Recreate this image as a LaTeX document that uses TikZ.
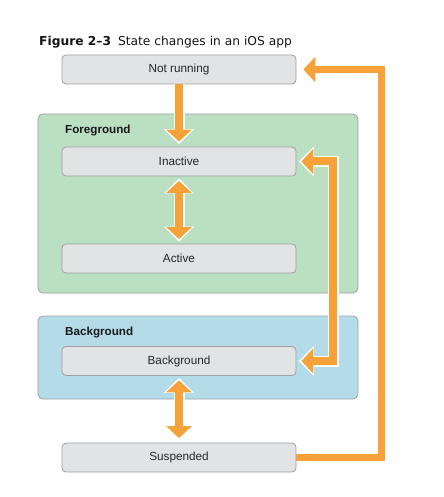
\documentclass[tikz,border=0pt]{standalone}
\usepackage{fontspec}
\setmainfont{Liberation Sans}
\newfontfamily\titlefont{DejaVu Sans}
\usetikzlibrary{arrows.meta}
\definecolor{myorange}{RGB}{247,162,57}
\definecolor{fggreen}{RGB}{186,223,194}
\definecolor{bgblue}{RGB}{179,220,232}
\definecolor{boxfill}{RGB}{226,227,229}
\definecolor{boxborder}{RGB}{160,160,162}
\definecolor{grpborder}{RGB}{160,162,162}
\definecolor{titlecol}{RGB}{20,20,20}
\begin{document}
\begin{tikzpicture}[x=1bp,y=-1bp,
  statebox/.style={draw=boxborder, fill=boxfill, rounded corners=4bp, line width=0.8bp,
    minimum width=234bp, minimum height=29bp, inner sep=0pt,
    font=\fontsize{11.8}{13}\selectfont, text=black!85},
  group/.style={draw=grpborder, line width=0.8bp, rounded corners=5bp,
    minimum width=320bp, inner sep=0pt},
  grplabel/.style={anchor=base west, inner sep=0pt,
    font=\bfseries\fontsize{11.7}{13}\selectfont, text=black!90},
  wline/.style={draw=white, line width=11bp, line join=miter},
  oline/.style={draw=myorange, line width=8bp, line join=miter},
  wtip/.tip={Triangle[width=29bp,length=15bp]},
  otip/.tip={Triangle[width=25bp,length=12bp]}
]
\useasboundingbox (0,0) rectangle (444,497);

% title
\node[anchor=base west, inner sep=0pt, font=\titlefont\fontsize{12.3}{14}\selectfont, text=titlecol]
  (title) at (39,45.5) {\textbf{Figure 2–3}\hspace{7bp}State changes in an iOS app};

% groups
\node[group, fill=fggreen, minimum height=179bp] (fg) at (198,203.5) {};
\node[group, fill=bgblue, minimum height=83bp] (bg) at (198,357.5) {};
\node[grplabel] (fglabel) at (65,134) {Foreground};
\node[grplabel] (bglabel) at (65,335.5) {Background};

% states
\node[statebox] (notrun) at (179,69.5) {Not running};
\node[statebox] (inactive) at (179,161.5) {Inactive};
\node[statebox] (active) at (179,258.5) {Active};
\node[statebox] (bgstate) at (179,361) {Background};
\node[statebox] (susp) at (179,457.5) {Suspended};

% Not running -> Inactive
\draw[wline, -wtip, shorten >=2.5bp] (notrun.south) -- (inactive.north);
\draw[oline, -otip, shorten >=5bp] (notrun.south) -- (inactive.north);

% Inactive <-> Active
\draw[wline, wtip-wtip, shorten >=2bp, shorten <=2bp] (inactive.south) -- (active.north);
\draw[oline, otip-otip, shorten >=4.5bp, shorten <=4.5bp] (inactive.south) -- (active.north);

% Background <-> Suspended
\draw[wline, wtip-wtip, shorten >=2bp, shorten <=2bp] (bgstate.south) -- (susp.north);
\draw[oline, otip-otip, shorten >=4.5bp, shorten <=4.5bp] (bgstate.south) -- (susp.north);

% Inactive <-> Background loop
\draw[wline, wtip-wtip, shorten >=2.5bp, shorten <=2.5bp]
  (inactive.east) -| ([xshift=37bp]bgstate.east) -- (bgstate.east);
\draw[oline, otip-otip, shorten >=5bp, shorten <=5bp]
  (inactive.east) -| ([xshift=37bp]bgstate.east) -- (bgstate.east);

% Suspended -> Not running loop
\draw[draw=myorange, line width=7.5bp, line join=miter, -otip, shorten >=7bp]
  (susp.east) -| ([xshift=85bp]notrun.east) -- (notrun.east);
\end{tikzpicture}
\end{document}
